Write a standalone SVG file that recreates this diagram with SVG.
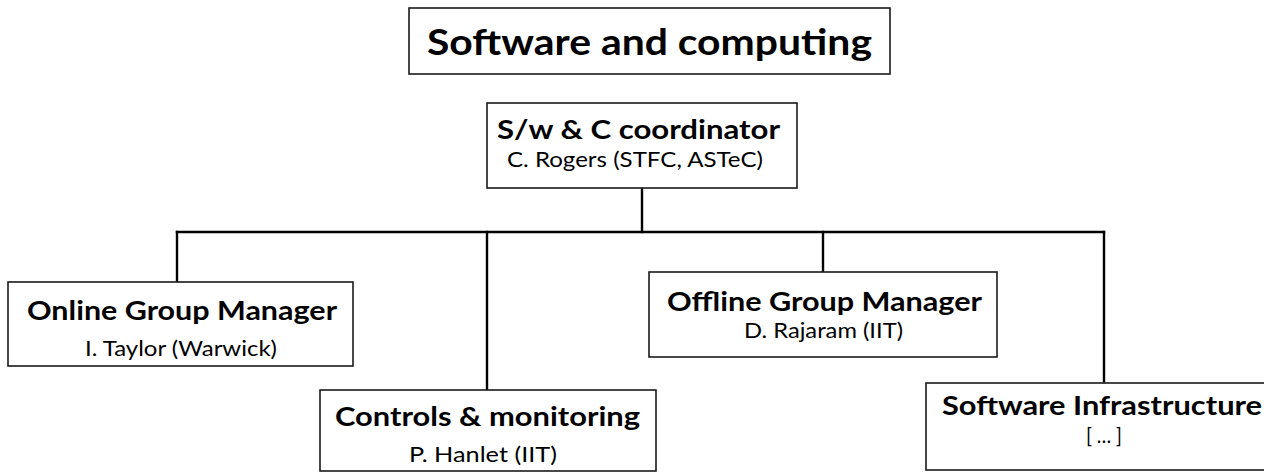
<svg xmlns="http://www.w3.org/2000/svg" width="1264" height="472" viewBox="0 0 1264 472">
  <style>
    .box { fill: #ffffff; stroke: #1a1a1a; stroke-width: 1.6; }
    .conn { fill: none; stroke: #000000; stroke-width: 2.4; stroke-linecap: square; }
    .t { font-family: Lato, "Open Sans", "DejaVu Sans", sans-serif; fill: #000000; text-anchor: middle; }
    .title { font-size: 36px; font-weight: bold; }
    .head { font-size: 26px; font-weight: bold; }
    .sub { font-size: 21px; font-weight: normal; }
  </style>
  <rect width="1264" height="472" fill="#ffffff"/>
  <g id="connectors">
    <path class="conn" d="M642,188 L642,232"/>
    <path class="conn" d="M177,232 L1104,232"/>
    <path class="conn" d="M177,232 L177,282"/>
    <path class="conn" d="M487,232 L487,390"/>
    <path class="conn" d="M823,232 L823,272"/>
    <path class="conn" d="M1104,232 L1104,383"/>
  </g>
  <g id="title">
    <rect class="box" x="409" y="8" width="481" height="66"/>
    <text class="t title" x="649.5" y="55" textLength="445" lengthAdjust="spacingAndGlyphs">Software and computing</text>
  </g>
  <g id="coordinator">
    <rect class="box" x="487" y="103" width="310" height="85"/>
    <text class="t head" x="638.5" y="139" textLength="283" lengthAdjust="spacingAndGlyphs">S/w &amp; C coordinator</text>
    <text class="t sub" x="635" y="167" textLength="256" lengthAdjust="spacingAndGlyphs">C. Rogers (STFC, ASTeC)</text>
  </g>
  <g id="online">
    <rect class="box" x="8" y="282" width="345" height="84"/>
    <text class="t head" x="182" y="320" textLength="310" lengthAdjust="spacingAndGlyphs">Online Group Manager</text>
    <text class="t sub" x="181" y="356" textLength="192" lengthAdjust="spacingAndGlyphs">I. Taylor (Warwick)</text>
  </g>
  <g id="controls">
    <rect class="box" x="320" y="390" width="336" height="81"/>
    <text class="t head" x="487.5" y="426" textLength="305" lengthAdjust="spacingAndGlyphs">Controls &amp; monitoring</text>
    <text class="t sub" x="483" y="462" textLength="148" lengthAdjust="spacingAndGlyphs">P. Hanlet (IIT)</text>
  </g>
  <g id="offline">
    <rect class="box" x="649" y="272" width="348" height="85"/>
    <text class="t head" x="824.5" y="311" textLength="315" lengthAdjust="spacingAndGlyphs">Offline Group Manager</text>
    <text class="t sub" x="823.5" y="338" textLength="159" lengthAdjust="spacingAndGlyphs">D. Rajaram (IIT)</text>
  </g>
  <g id="infrastructure">
    <rect class="box" x="926" y="383" width="354" height="87"/>
    <text class="t head" x="1102" y="415" textLength="320" lengthAdjust="spacingAndGlyphs">Software Infrastructure</text>
    <text class="t sub" x="1104" y="443" textLength="36" lengthAdjust="spacingAndGlyphs">[ … ]</text>
  </g>
</svg>
